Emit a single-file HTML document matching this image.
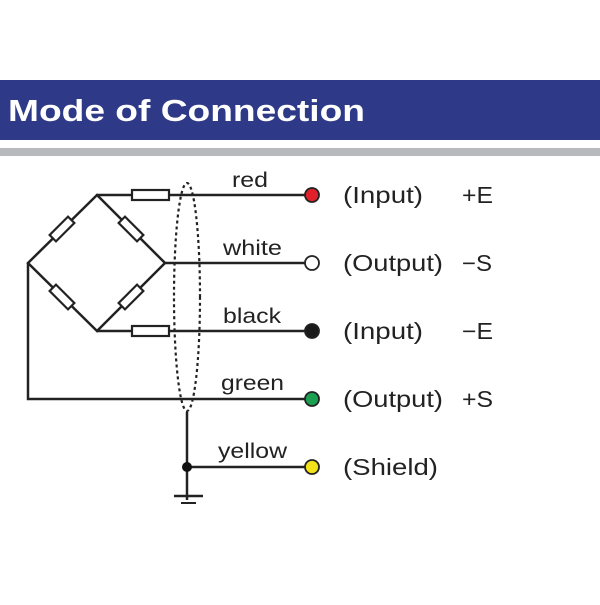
<!DOCTYPE html>
<html><head><style>
body{margin:0;background:#fff;width:600px;height:600px;overflow:hidden}
</style></head><body>
<svg width="600" height="600" xmlns="http://www.w3.org/2000/svg" font-family="Liberation Sans, sans-serif">
<rect x="0" y="80" width="600" height="60" fill="#2e3a87"/>
<rect x="0" y="148" width="600" height="8" fill="#b8b9bd"/>
<text x="8" y="121" fill="#fff" font-size="31" font-weight="bold" textLength="357" lengthAdjust="spacingAndGlyphs">Mode of Connection</text>
<g stroke="#222" stroke-width="2.5" fill="none">
<path d="M97 195 L28 263 L97 331 L165 263 Z"/>
<path d="M97 195 H311 M165 263 H311 M97 331 H311 M28 263 V399 H311"/>
<path d="M187 412 V500 M187 467 H311"/>
<path d="M174 496 H203" stroke-width="2.5"/>
<path d="M181 503 H196" stroke-width="2"/>
</g>
<g fill="#fff" stroke="#222" stroke-width="2.2">
<rect x="132" y="190" width="37" height="10"/>
<rect x="132" y="326" width="37" height="10"/>
<rect x="-13" y="-4.5" width="26" height="9" transform="translate(62,229) rotate(-45)"/>
<rect x="-13" y="-4.5" width="26" height="9" transform="translate(131,229) rotate(45)"/>
<rect x="-13" y="-4.5" width="26" height="9" transform="translate(62,297) rotate(45)"/>
<rect x="-13" y="-4.5" width="26" height="9" transform="translate(131,297) rotate(-45)"/>
</g>
<ellipse cx="187" cy="297" rx="13" ry="114" fill="none" stroke="#222" stroke-width="2.2" stroke-dasharray="3 3"/>
<circle cx="187" cy="467" r="5" fill="#111"/>
<g stroke="#222" stroke-width="1.8">
<circle cx="312" cy="195" r="7" fill="#e0202a"/>
<circle cx="312" cy="263" r="7" fill="#fff"/>
<circle cx="312" cy="331" r="7" fill="#1a1a1a"/>
<circle cx="312" cy="399" r="7" fill="#1aa050"/>
<circle cx="312" cy="467" r="7" fill="#f2e21a"/>
</g>
<g font-size="21" fill="#222" lengthAdjust="spacingAndGlyphs">
<text x="232" y="187" textLength="36" lengthAdjust="spacingAndGlyphs">red</text>
<text x="223" y="255" textLength="59" lengthAdjust="spacingAndGlyphs">white</text>
<text x="223" y="323" textLength="58" lengthAdjust="spacingAndGlyphs">black</text>
<text x="221" y="390" textLength="63" lengthAdjust="spacingAndGlyphs">green</text>
<text x="218" y="458" textLength="69" lengthAdjust="spacingAndGlyphs">yellow</text>
</g>
<g font-size="23" fill="#222">
<text x="343" y="203" textLength="80" lengthAdjust="spacingAndGlyphs">(Input)</text><text x="462" y="203" textLength="31" lengthAdjust="spacingAndGlyphs">+E</text>
<text x="343" y="271" textLength="100" lengthAdjust="spacingAndGlyphs">(Output)</text><text x="462" y="271" textLength="30" lengthAdjust="spacingAndGlyphs">−S</text>
<text x="343" y="339" textLength="80" lengthAdjust="spacingAndGlyphs">(Input)</text><text x="462" y="339" textLength="31" lengthAdjust="spacingAndGlyphs">−E</text>
<text x="343" y="407" textLength="100" lengthAdjust="spacingAndGlyphs">(Output)</text><text x="462" y="407" textLength="31" lengthAdjust="spacingAndGlyphs">+S</text>
<text x="343" y="475" textLength="95" lengthAdjust="spacingAndGlyphs">(Shield)</text>
</g>
</svg>
</body></html>
